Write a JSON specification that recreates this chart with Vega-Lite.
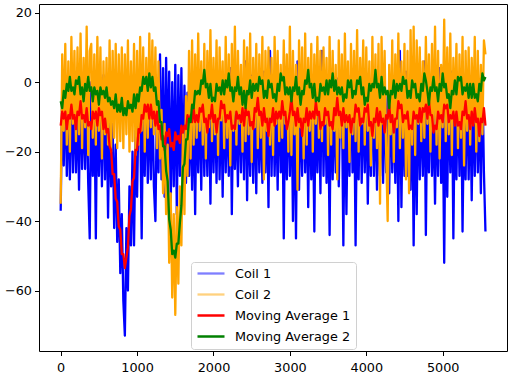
{
"$schema": "https://vega.github.io/schema/vega-lite/v6.json",
"width": 468, "height": 347,
"autosize": {"type": "none"},
"padding": {"left": 39, "top": 4, "right": 8, "bottom": 27},
"background": "white",
"config": {
 "font": "DejaVu Sans",
 "view": {"stroke": "black", "strokeWidth": 1},
 "axis": {"grid": false, "domain": false, "tickColor": "black", "tickSize": 4.5, "tickWidth": 1, "labelColor": "black", "labelFontSize": 12.8, "labelFont": "DejaVu Sans", "title": null, "labelFlush": false, "format": "d"}
},
"data": {"values": [
{"x":0,"a":-37,"b":-35,"c":-12.5,"d":-5.5},{"x":20,"a":-2,"b":8,"c":-8.5,"d":-7.5},{"x":40,"a":-24,"b":-14,"c":-10.5,"d":-2.5},{"x":60,"a":1,"b":11,"c":-8.5,"d":-4.5},{"x":80,"a":-27,"b":-18,"c":-13.5,"d":-0.5},{"x":100,"a":-5,"b":6,"c":-9.5,"d":-2.5},{"x":120,"a":-28,"b":-20,"c":-10.5,"d":1.5},{"x":140,"a":0,"b":13,"c":-6.5,"d":-2.5},{"x":160,"a":-26,"b":-12,"c":-10.5,"d":-1.5},{"x":180,"a":-3,"b":9,"c":-9.5,"d":-3.5},
{"x":200,"a":-26,"b":-17,"c":-13.5,"d":0.5},{"x":220,"a":-4,"b":10,"c":-8.5,"d":-0.5},{"x":240,"a":-31,"b":-15,"c":-9.5,"d":1.5},{"x":260,"a":2,"b":14,"c":-5.5,"d":-3.5},{"x":280,"a":-25,"b":-19,"c":-10.5,"d":-1.5},{"x":300,"a":-6,"b":7,"c":-9.5,"d":-5.5},{"x":320,"a":-25,"b":-13,"c":-11.5,"d":-0.5},{"x":340,"a":-1,"b":16,"c":-7.5,"d":-2.5},{"x":360,"a":-29,"b":-21,"c":-12.5,"d":1.5},{"x":380,"a":-45,"b":9,"c":-11.5,"d":-2.5},
{"x":400,"a":0,"b":11,"c":-13.5,"d":-1.5},{"x":420,"a":-27,"b":-16,"c":-8.5,"d":-5.5},{"x":440,"a":-3,"b":8,"c":-10.5,"d":-1.5},{"x":460,"a":-45,"b":-18,"c":-8.5,"d":-3.5},{"x":480,"a":1,"b":13,"c":-12.5,"d":-2.5},{"x":500,"a":-27,"b":-14,"c":-7.5,"d":-6.5},{"x":520,"a":-5,"b":10,"c":-9.5,"d":-1.5},{"x":540,"a":-30,"b":-22,"c":-8.5,"d":-3.5},{"x":560,"a":2,"b":6,"c":-13.5,"d":-2.5},{"x":580,"a":-28,"b":-15,"c":-10.5,"d":-4.5},
{"x":600,"a":-3,"b":7,"c":-14.5,"d":-1.5},{"x":620,"a":-39,"b":-18,"c":-13.5,"d":-5.5},{"x":640,"a":-6,"b":12,"c":-18.5,"d":-4.5},{"x":660,"a":-30,"b":-20,"c":-19.5,"d":-6.5},{"x":680,"a":-12,"b":9,"c":-26.5,"d":-5.5},{"x":700,"a":-42,"b":-16,"c":-26.5,"d":-7.5},{"x":720,"a":-18,"b":11,"c":-33.5,"d":-3.5},{"x":740,"a":-46,"b":-19,"c":-34.5,"d":-8.5},{"x":760,"a":-28,"b":8,"c":-41.5,"d":-6.5},{"x":780,"a":-55,"b":-17,"c":-42.5,"d":-8.5},
{"x":800,"a":-38,"b":10,"c":-49.5,"d":-4.5},{"x":820,"a":-63,"b":-19,"c":-49.5,"d":-9.5},{"x":840,"a":-73,"b":8,"c":-53.5,"d":-7.5},{"x":860,"a":-42,"b":-15,"c":-50.5,"d":-9.5},{"x":880,"a":-60,"b":12,"c":-47.5,"d":-5.5},{"x":900,"a":-30,"b":-20,"c":-38.5,"d":-7.5},{"x":920,"a":-47,"b":6,"c":-36.5,"d":-6.5},{"x":940,"a":-20,"b":-17,"c":-28.5,"d":-8.5},{"x":960,"a":-47,"b":11,"c":-27.5,"d":-3.5},{"x":980,"a":-14,"b":-21,"c":-19.5,"d":-7.5},
{"x":1000,"a":-33,"b":9,"c":-19.5,"d":-3.5},{"x":1020,"a":-6,"b":-18,"c":-13.5,"d":-5.5},{"x":1040,"a":-8,"b":13,"c":-14.5,"d":-1.5},{"x":1060,"a":-45,"b":-14,"c":-9.5,"d":-2.5},{"x":1080,"a":-2,"b":10,"c":-10.5,"d":1.5},{"x":1100,"a":-27,"b":-20,"c":-6.5,"d":-0.5},{"x":1120,"a":0,"b":7,"c":-8.5,"d":1.5},{"x":1140,"a":-29,"b":-16,"c":-6.5,"d":-2.5},{"x":1160,"a":-3,"b":14,"c":-10.5,"d":2.5},{"x":1180,"a":-28,"b":-13,"c":-6.5,"d":-1.5},
{"x":1200,"a":-2,"b":12,"c":-10.5,"d":1.5},{"x":1220,"a":-30,"b":-15,"c":-8.5,"d":-2.5},{"x":1240,"a":-40,"b":10,"c":-12.5,"d":-1.5},{"x":1260,"a":-5,"b":-19,"c":-8.5,"d":-6.5},{"x":1280,"a":-26,"b":6,"c":-13.5,"d":-5.5},{"x":1300,"a":8,"b":-22,"c":-12.5,"d":-11.5},{"x":1320,"a":-28,"b":-8,"c":-16.5,"d":-11.5},{"x":1340,"a":4,"b":-32,"c":-15.5,"d":-18.5},{"x":1360,"a":-33,"b":-12,"c":-19.5,"d":-18.5},{"x":1380,"a":7,"b":-38,"c":-14.5,"d":-25.5},
{"x":1400,"a":-24,"b":-18,"c":-15.5,"d":-28.5},{"x":1420,"a":3,"b":-52,"c":-13.5,"d":-39.5},{"x":1440,"a":-36,"b":-32,"c":-18.5,"d":-42.5},{"x":1460,"a":0,"b":-62,"c":-17.5,"d":-49.5},{"x":1480,"a":-30,"b":-38,"c":-19.5,"d":-48.5},{"x":1500,"a":5,"b":-67,"c":-14.5,"d":-50.5},{"x":1520,"a":-38,"b":-36,"c":-16.5,"d":-46.5},{"x":1540,"a":2,"b":-58,"c":-15.5,"d":-46.5},{"x":1560,"a":-27,"b":-30,"c":-17.5,"d":-40.5},{"x":1580,"a":4,"b":-47,"c":-12.5,"d":-35.5},
{"x":1600,"a":-32,"b":-15,"c":-14.5,"d":-24.5},{"x":1620,"a":-1,"b":-38,"c":-12.5,"d":-23.5},{"x":1640,"a":-29,"b":-4,"c":-13.5,"d":-16.5},{"x":1660,"a":-3,"b":-27,"c":-9.5,"d":-16.5},{"x":1680,"a":-27,"b":9,"c":-11.5,"d":-10.5},{"x":1700,"a":-6,"b":-22,"c":-9.5,"d":-11.5},{"x":1720,"a":-31,"b":12,"c":-11.5,"d":-6.5},{"x":1740,"a":-4,"b":-18,"c":-7.5,"d":-7.5},{"x":1760,"a":-38,"b":8,"c":-11.5,"d":-2.5},{"x":1780,"a":-2,"b":-16,"c":-9.5,"d":-3.5},
{"x":1800,"a":-26,"b":14,"c":-11.5,"d":-2.5},{"x":1820,"a":-3,"b":-14,"c":-7.5,"d":-3.5},{"x":1840,"a":-31,"b":6,"c":-8.5,"d":0.5},{"x":1860,"a":1,"b":-18,"c":-6.5,"d":-0.5},{"x":1880,"a":-27,"b":11,"c":-11.5,"d":3.5},{"x":1900,"a":-6,"b":-22,"c":-10.5,"d":-1.5},{"x":1920,"a":-27,"b":9,"c":-14.5,"d":-0.5},{"x":1940,"a":2,"b":-13,"c":-9.5,"d":-4.5},{"x":1960,"a":-35,"b":15,"c":-10.5,"d":-0.5},{"x":1980,"a":-1,"b":-17,"c":-6.5,"d":-5.5},
{"x":2000,"a":-26,"b":7,"c":-11.5,"d":-4.5},{"x":2020,"a":-4,"b":-15,"c":-9.5,"d":-5.5},{"x":2040,"a":-29,"b":12,"c":-14.5,"d":-0.5},{"x":2060,"a":3,"b":-21,"c":-10.5,"d":-2.5},{"x":2080,"a":-28,"b":10,"c":-10.5,"d":-1.5},{"x":2100,"a":-2,"b":-11,"c":-5.5,"d":-3.5},{"x":2120,"a":-33,"b":6,"c":-7.5,"d":0.5},{"x":2140,"a":0,"b":-19,"c":-6.5,"d":-3.5},{"x":2160,"a":-26,"b":13,"c":-11.5,"d":0.5},{"x":2180,"a":-5,"b":-16,"c":-9.5,"d":-1.5},
{"x":2200,"a":-27,"b":8,"c":-10.5,"d":2.5},{"x":2220,"a":4,"b":-24,"c":-8.5,"d":-2.5},{"x":2240,"a":-38,"b":11,"c":-13.5,"d":-1.5},{"x":2260,"a":-3,"b":-14,"c":-12.5,"d":-5.5},{"x":2280,"a":-25,"b":16,"c":-13.5,"d":-1.5},{"x":2300,"a":-7,"b":-18,"c":-8.5,"d":-2.5},{"x":2320,"a":-30,"b":9,"c":-10.5,"d":1.5},{"x":2340,"a":1,"b":-12,"c":-9.5,"d":-3.5},{"x":2360,"a":-26,"b":5,"c":-11.5,"d":-1.5},{"x":2380,"a":-1,"b":-20,"c":-7.5,"d":-6.5},
{"x":2400,"a":-28,"b":12,"c":-12.5,"d":-2.5},{"x":2420,"a":6,"b":-17,"c":-7.5,"d":-7.5},{"x":2440,"a":-34,"b":10,"c":-9.5,"d":-2.5},{"x":2460,"a":-4,"b":-15,"c":-8.5,"d":-3.5},{"x":2480,"a":-27,"b":14,"c":-12.5,"d":0.5},{"x":2500,"a":2,"b":-23,"c":-11.5,"d":-4.5},{"x":2520,"a":-29,"b":7,"c":-13.5,"d":-0.5},{"x":2540,"a":-2,"b":-13,"c":-7.5,"d":-2.5},{"x":2560,"a":-32,"b":11,"c":-8.5,"d":-0.5},{"x":2580,"a":0,"b":-19,"c":-4.5,"d":-2.5},
{"x":2600,"a":-26,"b":8,"c":-9.5,"d":1.5},{"x":2620,"a":-6,"b":-16,"c":-8.5,"d":-0.5},{"x":2640,"a":-29,"b":13,"c":-12.5,"d":0.5},{"x":2660,"a":3,"b":-28,"c":-7.5,"d":-4.5},{"x":2680,"a":-26,"b":9,"c":-11.5,"d":-2.5},{"x":2700,"a":-3,"b":-14,"c":-10.5,"d":-4.5},{"x":2720,"a":-36,"b":10,"c":-15.5,"d":0.5},{"x":2740,"a":9,"b":-18,"c":-10.5,"d":-1.5},{"x":2760,"a":-27,"b":7,"c":-11.5,"d":-0.5},{"x":2780,"a":-1,"b":-21,"c":-7.5,"d":-4.5},
{"x":2800,"a":-27,"b":13,"c":-12.5,"d":-3.5},{"x":2820,"a":-5,"b":-12,"c":-8.5,"d":-5.5},{"x":2840,"a":-31,"b":9,"c":-10.5,"d":-0.5},{"x":2860,"a":2,"b":-17,"c":-8.5,"d":-2.5},{"x":2880,"a":-26,"b":5,"c":-10.5,"d":2.5},{"x":2900,"a":-4,"b":-16,"c":-5.5,"d":0.5},{"x":2920,"a":-45,"b":12,"c":-9.5,"d":1.5},{"x":2940,"a":1,"b":-12,"c":-8.5,"d":-3.5},{"x":2960,"a":-28,"b":8,"c":-13.5,"d":-1.5},{"x":2980,"a":-2,"b":-20,"c":-11.5,"d":-3.5},
{"x":3000,"a":-27,"b":16,"c":-8.5,"d":-1.5},{"x":3020,"a":1,"b":-21,"c":-4.5,"d":-5.5},{"x":3040,"a":-40,"b":9,"c":-9.5,"d":-1.5},{"x":3060,"a":-1,"b":-15,"c":-8.5,"d":-2.5},{"x":3080,"a":-45,"b":5,"c":-12.5,"d":1.5},{"x":3100,"a":6,"b":-31,"c":-7.5,"d":-3.5},{"x":3120,"a":-31,"b":12,"c":-11.5,"d":-1.5},{"x":3140,"a":-4,"b":-13,"c":-10.5,"d":-6.5},{"x":3160,"a":-27,"b":10,"c":-15.5,"d":-2.5},{"x":3180,"a":2,"b":-22,"c":-10.5,"d":-3.5},
{"x":3200,"a":-26,"b":14,"c":-11.5,"d":0.5},{"x":3220,"a":-2,"b":-18,"c":-7.5,"d":-0.5},{"x":3240,"a":-36,"b":7,"c":-12.5,"d":3.5},{"x":3260,"a":0,"b":-14,"c":-8.5,"d":-1.5},{"x":3280,"a":-28,"b":11,"c":-10.5,"d":-0.5},{"x":3300,"a":-6,"b":-20,"c":-8.5,"d":-4.5},{"x":3320,"a":-43,"b":8,"c":-10.5,"d":-0.5},{"x":3340,"a":3,"b":-12,"c":-5.5,"d":-5.5},{"x":3360,"a":-26,"b":13,"c":-9.5,"d":-4.5},{"x":3380,"a":-3,"b":-16,"c":-8.5,"d":-5.5},
{"x":3400,"a":-32,"b":9,"c":-13.5,"d":-0.5},{"x":3420,"a":9,"b":-17,"c":-11.5,"d":-2.5},{"x":3440,"a":-27,"b":10,"c":-12.5,"d":-1.5},{"x":3460,"a":-1,"b":-12,"c":-7.5,"d":-3.5},{"x":3480,"a":-29,"b":7,"c":-9.5,"d":0.5},{"x":3500,"a":-5,"b":-21,"c":-8.5,"d":-3.5},{"x":3520,"a":-44,"b":13,"c":-12.5,"d":0.5},{"x":3540,"a":2,"b":-18,"c":-11.5,"d":-1.5},{"x":3560,"a":-28,"b":9,"c":-13.5,"d":2.5},{"x":3580,"a":-4,"b":-14,"c":-7.5,"d":-2.5},
{"x":3600,"a":-26,"b":5,"c":-9.5,"d":0.5},{"x":3620,"a":1,"b":-28,"c":-4.5,"d":-3.5},{"x":3640,"a":-30,"b":12,"c":-9.5,"d":-1.5},{"x":3660,"a":-2,"b":-16,"c":-8.5,"d":-3.5},{"x":3680,"a":-3,"b":8,"c":-12.5,"d":-1.5},{"x":3700,"a":-47,"b":-19,"c":-7.5,"d":-5.5},{"x":3720,"a":-1,"b":14,"c":-11.5,"d":-3.5},{"x":3740,"a":-38,"b":-13,"c":-9.5,"d":-4.5},{"x":3760,"a":-6,"b":6,"c":-11.5,"d":0.5},{"x":3780,"a":-27,"b":-23,"c":-9.5,"d":-1.5},
{"x":3800,"a":2,"b":11,"c":-14.5,"d":0.5},{"x":3820,"a":-26,"b":-15,"c":-10.5,"d":-4.5},{"x":3840,"a":-1,"b":9,"c":-11.5,"d":-2.5},{"x":3860,"a":-47,"b":-17,"c":-6.5,"d":-3.5},{"x":3880,"a":-4,"b":15,"c":-8.5,"d":0.5},{"x":3900,"a":-28,"b":-20,"c":-7.5,"d":-0.5},{"x":3920,"a":3,"b":7,"c":-12.5,"d":1.5},{"x":3940,"a":-29,"b":-12,"c":-10.5,"d":-3.5},{"x":3960,"a":-2,"b":12,"c":-11.5,"d":-1.5},{"x":3980,"a":-26,"b":-18,"c":-7.5,"d":-6.5},
{"x":4000,"a":0,"b":10,"c":-8.5,"d":-4.5},{"x":4020,"a":-35,"b":-14,"c":-6.5,"d":-5.5},{"x":4040,"a":-5,"b":6,"c":-12.5,"d":-0.5},{"x":4060,"a":-27,"b":-24,"c":-11.5,"d":-2.5},{"x":4080,"a":4,"b":13,"c":-15.5,"d":-0.5},{"x":4100,"a":-27,"b":-16,"c":-10.5,"d":-1.5},{"x":4120,"a":-3,"b":8,"c":-11.5,"d":3.5},{"x":4140,"a":-31,"b":-19,"c":-7.5,"d":-1.5},{"x":4160,"a":-7,"b":11,"c":-12.5,"d":-0.5},{"x":4180,"a":-27,"b":-35,"c":-8.5,"d":-4.5},
{"x":4200,"a":-2,"b":13,"c":-11.5,"d":1.5},{"x":4220,"a":-29,"b":-12,"c":-10.5,"d":-3.5},{"x":4240,"a":1,"b":9,"c":-14.5,"d":-1.5},{"x":4260,"a":-26,"b":-20,"c":-9.5,"d":-3.5},{"x":4280,"a":-4,"b":-40,"c":-10.5,"d":-2.5},{"x":4300,"a":-32,"b":5,"c":-6.5,"d":-7.5},{"x":4320,"a":2,"b":-15,"c":-11.5,"d":-2.5},{"x":4340,"a":-26,"b":12,"c":-9.5,"d":-3.5},{"x":4360,"a":-5,"b":-23,"c":-14.5,"d":0.5},{"x":4380,"a":-29,"b":8,"c":-10.5,"d":-4.5},
{"x":4400,"a":-1,"b":-13,"c":-10.5,"d":-0.5},{"x":4420,"a":-40,"b":14,"c":-5.5,"d":-2.5},{"x":4440,"a":9,"b":-19,"c":-7.5,"d":-0.5},{"x":4460,"a":-36,"b":6,"c":-6.5,"d":-2.5},{"x":4480,"a":-3,"b":-16,"c":-11.5,"d":1.5},{"x":4500,"a":-27,"b":11,"c":-9.5,"d":-0.5},{"x":4520,"a":3,"b":-28,"c":-10.5,"d":0.5},{"x":4540,"a":-27,"b":9,"c":-8.5,"d":-4.5},{"x":4560,"a":-6,"b":-32,"c":-13.5,"d":-2.5},{"x":4580,"a":-31,"b":15,"c":-12.5,"d":-4.5},
{"x":4600,"a":0,"b":-18,"c":-13.5,"d":0.5},{"x":4620,"a":-47,"b":16,"c":-8.5,"d":-1.5},{"x":4640,"a":-2,"b":-21,"c":-10.5,"d":-0.5},{"x":4660,"a":-38,"b":12,"c":-9.5,"d":-4.5},{"x":4680,"a":2,"b":-12,"c":-11.5,"d":-3.5},{"x":4700,"a":-28,"b":10,"c":-7.5,"d":-5.5},{"x":4720,"a":-4,"b":-17,"c":-11.5,"d":-0.5},{"x":4740,"a":-27,"b":6,"c":-7.5,"d":-2.5},{"x":4760,"a":6,"b":-16,"c":-8.5,"d":2.5},{"x":4780,"a":-44,"b":13,"c":-6.5,"d":0.5},
{"x":4800,"a":-1,"b":-12,"c":-10.5,"d":-2.5},{"x":4820,"a":-26,"b":8,"c":-5.5,"d":-6.5},{"x":4840,"a":1,"b":-20,"c":-9.5,"d":-1.5},{"x":4860,"a":-27,"b":11,"c":-9.5,"d":-2.5},{"x":4880,"a":-7,"b":-14,"c":-14.5,"d":1.5},{"x":4900,"a":-35,"b":16,"c":-12.5,"d":-2.5},{"x":4920,"a":-3,"b":-18,"c":-13.5,"d":-1.5},{"x":4940,"a":-27,"b":9,"c":-8.5,"d":-5.5},{"x":4960,"a":4,"b":-22,"c":-10.5,"d":-0.5},{"x":4980,"a":-29,"b":5,"c":-9.5,"d":-2.5},
{"x":5000,"a":-5,"b":-13,"c":-11.5,"d":2.5},{"x":5020,"a":-52,"b":18,"c":-6.5,"d":-1.5},{"x":5040,"a":0,"b":-17,"c":-7.5,"d":-0.5},{"x":5060,"a":-33,"b":10,"c":-6.5,"d":-4.5},{"x":5080,"a":-2,"b":-15,"c":-11.5,"d":-3.5},{"x":5100,"a":-26,"b":14,"c":-9.5,"d":-7.5},{"x":5120,"a":3,"b":-21,"c":-10.5,"d":-2.5},{"x":5140,"a":-45,"b":7,"c":-8.5,"d":-3.5},{"x":5160,"a":-4,"b":-11,"c":-12.5,"d":0.5},{"x":5180,"a":-28,"b":11,"c":-8.5,"d":-3.5},
{"x":5200,"a":-1,"b":-19,"c":-12.5,"d":1.5},{"x":5220,"a":-27,"b":8,"c":-11.5,"d":0.5},{"x":5240,"a":2,"b":-16,"c":-13.5,"d":1.5},{"x":5260,"a":-43,"b":13,"c":-8.5,"d":-3.5},{"x":5280,"a":-6,"b":-24,"c":-9.5,"d":-1.5},{"x":5300,"a":-28,"b":9,"c":-5.5,"d":-2.5},{"x":5320,"a":1,"b":-14,"c":-10.5,"d":-0.5},{"x":5340,"a":-28,"b":10,"c":-9.5,"d":-4.5},{"x":5360,"a":-3,"b":-18,"c":-13.5,"d":-0.5},{"x":5380,"a":-34,"b":7,"c":-8.5,"d":-4.5},
{"x":5400,"a":-2,"b":-12,"c":-12.5,"d":-0.5},{"x":5420,"a":-27,"b":13,"c":-7.5,"d":-4.5},{"x":5440,"a":1,"b":-20,"c":-11.5,"d":-3.5},{"x":5460,"a":-26,"b":9,"c":-10.5,"d":-5.5},{"x":5480,"a":-4,"b":-17,"c":-15.5,"d":-0.5},{"x":5500,"a":-32,"b":5,"c":-10.5,"d":-2.5},{"x":5520,"a":2,"b":-15,"c":-11.5,"d":2.5},{"x":5540,"a":-26,"b":12,"c":-7.5,"d":0.5},{"x":5560,"a":-43,"b":8,"c":-12.5,"d":1.5}
]},
"transform": [{"fold": ["a", "b", "c", "d"], "as": ["s", "v"]}],
"mark": {"type": "line", "strokeJoin": "round", "clip": true},
"encoding": {
 "x": {"field": "x", "type": "quantitative", "scale": {"domain": [-284, 5842], "nice": false, "zero": false}, "axis": {"values": [0, 1000, 2000, 3000, 4000, 5000], "labelPadding": 6}},
 "y": {"field": "v", "type": "quantitative", "scale": {"domain": [-77.4, 22.5], "nice": false, "zero": false}, "axis": {"values": [-60, -40, -20, 0, 20], "labelPadding": 3}},
 "color": {"field": "s", "type": "nominal", "scale": {"domain": ["a", "b", "c", "d"], "range": ["#0000ff", "#ffa500", "#ff0000", "#008000"]},
  "legend": {"orient": "none", "legendX": 152, "legendY": 258, "title": null, "labelExpr": "{'a': 'Coil 1', 'b': 'Coil 2', 'c': 'Moving Average 1', 'd': 'Moving Average 2'}[datum.label]", "labelFontSize": 12.8, "labelFont": "DejaVu Sans", "labelColor": "black", "symbolType": "stroke", "symbolSize": 729, "symbolStrokeWidth": 1.3, "clipHeight": 13, "labelOffset": 9, "rowPadding": 7, "padding": 5, "strokeColor": "#d0d0d0", "fillColor": "rgba(255,255,255,0.8)", "cornerRadius": 3,
   "encode": {"symbols": {"update": {"strokeWidth": {"value": 1.3}, "opacity": {"signal": "datum.value === 'a' || datum.value === 'b' ? 0.5 : 1"}}}}}},
 "strokeWidth": {"field": "s", "type": "nominal", "scale": {"domain": ["a", "b", "c", "d"], "range": [2.3, 2.3, 1.4, 1.4]}, "legend": null}
}
}
